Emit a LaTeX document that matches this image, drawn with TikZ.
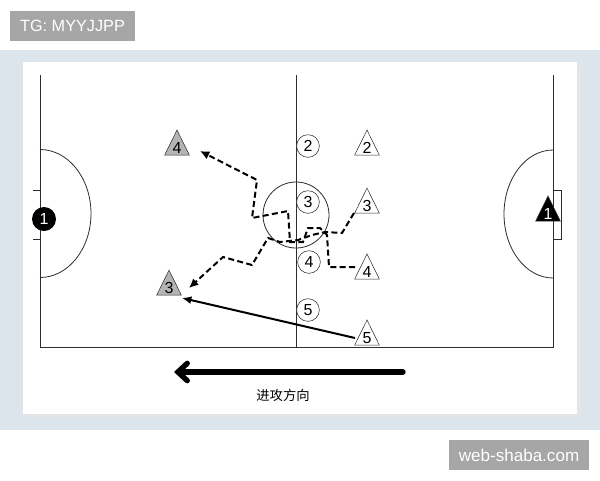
\documentclass[tikz,border=0pt]{standalone}
\usepackage{fontspec}
\setmainfont{Liberation Sans}
\newfontfamily\cjk{Noto Sans CJK SC}
\usetikzlibrary{shapes.geometric,arrows.meta,calc}

\definecolor{bandblue}{RGB}{221,229,236}
\definecolor{markgrey}{RGB}{166,166,166}
\definecolor{pitchline}{RGB}{45,45,45}
\definecolor{trigrey}{RGB}{180,180,180}

\tikzset{
  numfont/.style={font=\fontsize{12}{12}\selectfont},
  tagbox/.style={fill=markgrey, text=white, inner sep=0pt, minimum height=22.5pt, font=\fontsize{12.2}{12}\selectfont},
  ring/.style={circle, draw=pitchline, fill=white, minimum size=17pt, inner sep=0pt, numfont},
  tri/.style={isosceles triangle, shape border rotate=90, isosceles triangle apex angle=52,
    isosceles triangle stretches, minimum height=18.75pt, minimum width=18.5pt,
    inner sep=0pt, draw=pitchline, fill=white, numfont},
  trigray/.style={tri, fill=trigrey},
  run/.style={line width=1.5pt, dash pattern=on 4.5pt off 2.5pt, -{Latex[length=7pt,width=6.5pt]}},
  pass/.style={line width=1.5pt, -{Latex[length=7pt,width=6pt]}}
}

\begin{document}
\begin{tikzpicture}[x=0.75pt,y=0.75pt,yscale=-1,xscale=1]
\useasboundingbox (0,0) rectangle (600,480);

% backdrop and card
\fill[bandblue] (0,50) rectangle (600,430);
\fill[black!10] (26,66) rectangle (581,417);
\fill[white] (23,62) rectangle (577,414);

% pitch
\draw[pitchline, line width=0.75pt] (40,75) -- (40,347) -- (553,347) -- (553,75);
\draw[pitchline, line width=0.75pt] (296,75) -- (296,347);
\draw[pitchline, line width=0.6pt] (296,215) circle [radius=33];
\draw[pitchline, line width=0.6pt] (40,149.5) arc [start angle=-90, end angle=90, x radius=51, y radius=64];
\draw[pitchline, line width=0.6pt] (553,150) arc [start angle=-90, end angle=-270, x radius=49, y radius=64];
\draw[pitchline, line width=0.6pt] (33,190) -- (40,190) (33,239) -- (40,239);
\draw[pitchline, line width=0.6pt] (553,190) -- (561,190) -- (561,239) -- (553,239);

% keepers
\node[circle, fill=black, minimum size=18pt, inner sep=0pt, text=white, numfont] (gk1) at (44,219) {1};
\node[tri, fill=black, text=white] (gk2) at (548,214) {1};

% ring players
\node[ring] (c2) at (308,146) {2};
\node[ring] (c3) at (308,202) {3};
\node[ring] (c4) at (309,262) {4};
\node[ring] (c5) at (308,310) {5};

% triangle players
\node[tri] (t2) at (367,148) {2};
\node[tri] (t3) at (367,206) {3};
\node[tri] (t4) at (367,272) {4};
\node[tri] (t5) at (367,338) {5};
\node[trigray] (g4) at (177,148) {4};
\node[trigray] (g3) at (169,288) {3};

% runs
\draw[run] ($(t4)+(-12,-5)$) -- (329,267) -- (327,235) -- (320,228) -- (308,228) -- (303,242)
  -- (290,242) -- (288,211) -- (252,218) -- (257,180) -- ($(g4)+(23,3)$);
\draw[run] ($(t3)+(-13,7)$) -- (342,233) -- (325,232) -- (312,235) -- (298,240) -- (280,242)
  -- (268,238) -- (252,265) -- (223,257) -- ($(g3)+(20,0)$);
\draw[pass] ($(t5)+(-12,0)$) -- ($(g3)+(13,10)$);

% direction
\draw[line width=4pt, line cap=round, -{Straight Barb[length=7pt,width=13pt,line cap=round]}] (403,372) -- (174,372);
\node[font=\cjk\fontsize{10}{10}\selectfont] (dir) at (283,395) {进攻方向};

% watermarks
\node[tagbox, minimum width=93.75pt] (tg) at (72.5,25.5) {TG: MYYJJPP};
\node[tagbox, minimum width=105pt, font=\fontsize{12.8}{12}\selectfont] (web) at (519,455) {web-shaba.com};
\end{tikzpicture}
\end{document}
